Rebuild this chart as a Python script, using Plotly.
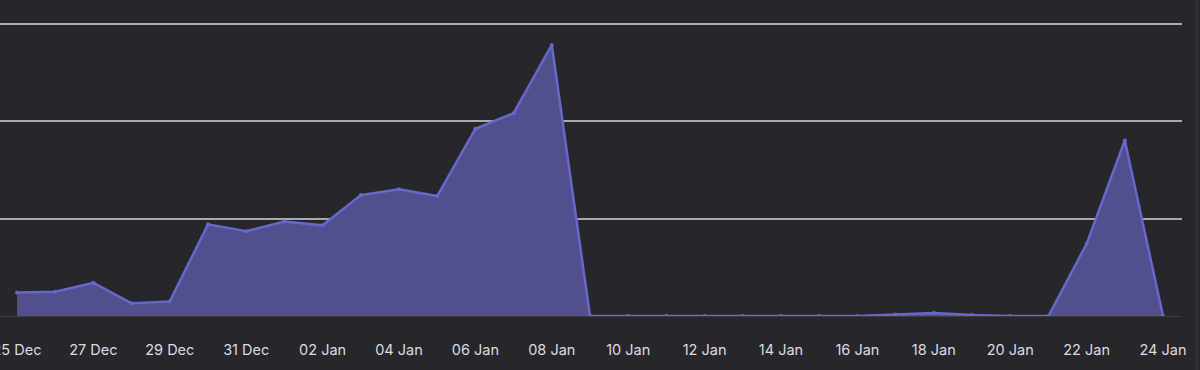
import plotly.graph_objects as go
import pandas as pd

dates = pd.date_range("2024-12-25", "2025-01-24", freq="D")
values = [24, 25, 34, 13, 15, 94, 87, 97, 93, 124, 130, 123, 192, 208, 278,
          0, 0, 0, 0, 0, 0, 0, 0, 1.5, 3, 1, 0, 0, 74, 180, 0]
tick_dates = pd.date_range("2024-12-25", "2025-01-24", freq="2D")
grid_vals = [100, 200, 300]

BG = "#27262b"

fig = go.Figure()
fig.add_trace(go.Scatter(
    x=dates, y=values, mode="lines+markers",
    line=dict(color="#6668cc", width=2.5),
    marker=dict(size=4, color="#6668cc"),
    fill="tozeroy", fillcolor="#514f8d",
    hoverinfo="skip", showlegend=False,
))

fig.update_layout(
    width=1200, height=370,
    margin=dict(l=0, r=18, t=10, b=54, autoexpand=False),
    paper_bgcolor=BG, plot_bgcolor=BG,
    xaxis=dict(
        type="date",
        range=["2024-12-24 13:19", "2025-01-24 11:56"],
        tickvals=tick_dates, tickformat="%d %b",
        showgrid=False, zeroline=False, automargin=False,
        showline=True, linecolor="#3c3b41", linewidth=1,
        ticks="", ticklabelstandoff=21, ticklabeloverflow="allow",
        tickfont=dict(family="Inter, Roboto, sans-serif", size=14.5, color="#dcdce0"),
    ),
    yaxis=dict(
        range=[0, 313.85], automargin=False,
        tickvals=grid_vals, showticklabels=False,
        showgrid=True, gridcolor="#a9a9ae", gridwidth=1.5,
        zeroline=False, showline=False, ticks="",
    ),
)

fig.add_shape(type="line", xref="paper", yref="paper",
              x0=1197/1182, x1=1197/1182, y0=-1, y1=2,
              line=dict(color="#333238", width=2))

fig.write_html(
    "out.html",
    config={"displayModeBar": False},
    post_script="document.body.style.margin='0';document.body.style.background='%s';"
                "document.body.style.overflow='hidden';" % BG,
)
